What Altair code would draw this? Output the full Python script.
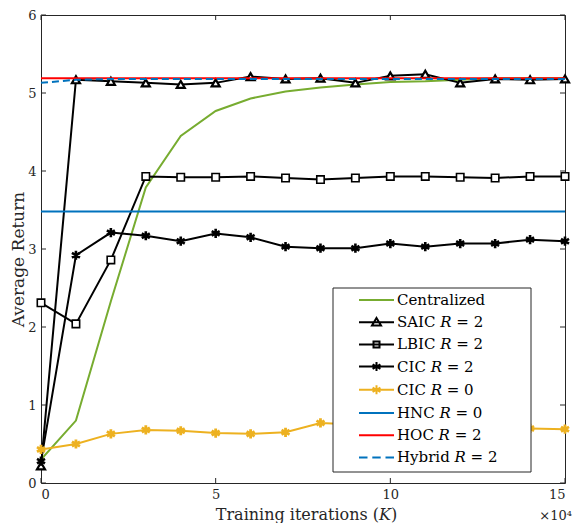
import altair as alt
import pandas as pd

# ---------------- data ----------------
iters = [0, 1, 2, 3, 4, 5, 6, 7, 8, 9, 10, 11, 12, 13, 14, 15]
centralized = [0.30, 0.80, 2.33, 3.79, 4.45, 4.77, 4.93, 5.02, 5.07, 5.11, 5.14, 5.15, 5.17, 5.19, 5.19, 5.19]
saic = [0.22, 5.17, 5.15, 5.13, 5.11, 5.13, 5.21, 5.18, 5.19, 5.13, 5.22, 5.24, 5.13, 5.18, 5.17, 5.18]
lbic = [2.31, 2.04, 2.86, 3.93, 3.92, 3.92, 3.93, 3.91, 3.89, 3.91, 3.93, 3.93, 3.92, 3.91, 3.93, 3.93]
cic2 = [0.28, 2.92, 3.21, 3.17, 3.10, 3.20, 3.15, 3.03, 3.01, 3.01, 3.07, 3.03, 3.07, 3.07, 3.12, 3.10]
cic0 = [0.43, 0.50, 0.63, 0.68, 0.67, 0.64, 0.63, 0.65, 0.77, 0.75, 0.74, 0.73, 0.72, 0.71, 0.70, 0.69]
hnc_x = [0, 15]
hnc = [3.48, 3.48]
hoc_x = [0, 15]
hoc = [5.19, 5.19]
hybrid = [5.13, 5.17, 5.18, 5.18, 5.18, 5.18, 5.18, 5.18, 5.18, 5.18, 5.18, 5.18, 5.18, 5.18, 5.18, 5.18]

series_names = ["Centralized", "SAIC 𝑅 = 2", "LBIC 𝑅 = 2", "CIC 𝑅 = 2",
                "CIC 𝑅 = 0", "HNC 𝑅 = 0", "HOC 𝑅 = 2", "Hybrid 𝑅 = 2"]
series_colors = ["#77AC30", "#000000", "#000000", "#000000",
                 "#EDB120", "#0072BD", "#FF0000", "#0072BD"]

x_ticks = [0, 5, 10, 15]
y_ticks = [0, 1, 2, 3, 4, 5, 6]
x_title = "Training iterations (𝐾)"
y_title = "Average Return"
x_multiplier = "×10⁴"

FONT = "'DejaVu Serif', 'Liberation Serif', serif"
W, H = 524, 468

ASTERISK = "M0,-1L0,1M-0.87,-0.5L0.87,0.5M-0.87,0.5L0.87,-0.5"

# legend symbols (line sample + marker)
LINE = "M-1.75,0L1.75,0"
STAR = "M0,-0.45L0,0.45M-0.39,-0.22L0.39,0.22M-0.39,0.22L0.39,-0.22"
leg_shapes = [
    LINE,
    LINE + "M0,-0.42L0.45,0.32L-0.45,0.32Z",
    LINE + "M-0.3,-0.3L0.3,-0.3L0.3,0.3L-0.3,0.3Z",
    LINE + STAR,
    LINE + STAR,
    LINE,
    LINE,
    "M-1.75,0L-0.9,0M-0.42,0L0.42,0M0.9,0L1.75,0",
]

xs = alt.Scale(domain=[0, 15], nice=False, zero=False)
ys = alt.Scale(domain=[0, 6], nice=False, zero=False)

x_enc = alt.X("x:Q", scale=xs, axis=alt.Axis(values=x_ticks, ticks=False, domain=False, grid=False, format="d",
                                            title=x_title, labelPadding=5,
                                            titleX=265, titleY=36, titleAlign="center",
                                            titleBaseline="alphabetic",
                                            labelFontSize=13, titleFontSize=16))
y_enc = alt.Y("y:Q", scale=ys, axis=alt.Axis(values=y_ticks, ticks=False, domain=False, grid=False, format="d",
                                            title=y_title, labelPadding=5, titleX=-18, titleY=244,
                                            titleAlign="center", titleBaseline="alphabetic",
                                            labelFontSize=13, titleFontSize=17))


def df(xv, yv):
    return pd.DataFrame({"x": xv, "y": yv})


def line(xv, yv, color, width=2.0, dash=None):
    kw = dict(color=color, strokeWidth=width, clip=True)
    if dash:
        kw["strokeDash"] = dash
    return alt.Chart(df(xv, yv)).mark_line(**kw).encode(x=x_enc, y=y_enc)


def pts(xv, yv, shape, color, size, sw, fill=None):
    kw = dict(shape=shape, size=size, strokeWidth=sw, opacity=1, color=color)
    if fill:
        kw.update(filled=True, fill=fill, stroke=color)
    else:
        kw.update(filled=False)
    return alt.Chart(df(xv, yv)).mark_point(**kw).encode(x=x_enc, y=y_enc)


layers = [
    line(iters, centralized, "#77AC30"),
    line(iters, saic, "#000000"),
    pts(iters, saic, "triangle-up", "#000000", 65, 2.2, fill="white"),
    line(iters, lbic, "#000000"),
    pts(iters, lbic, "square", "#000000", 55, 1.6, fill="white"),
    line(iters, cic2, "#000000"),
    pts(iters, cic2, ASTERISK, "#000000", 85, 2.6),
    line(iters, cic0, "#EDB120"),
    pts(iters, cic0, ASTERISK, "#EDB120", 85, 2.8),
    line(hnc_x, hnc, "#0072BD"),
    line(hoc_x, hoc, "#FF0000"),
    line(iters, hybrid, "#0072BD", dash=[7, 4]),
]

# legend frame
frame = alt.Chart(pd.DataFrame({"k": [0]})).mark_rect(
    fill="white", stroke="#262626", strokeWidth=1
).encode(x=alt.value(292), x2=alt.value(490), y=alt.value(273), y2=alt.value(457))

# legend-only layer (invisible marks, legend symbols drawn by Vega)
leg_df = pd.DataFrame({"series": series_names})
legend_layer = alt.Chart(leg_df).mark_point(opacity=0, filled=False, strokeWidth=2).encode(
    color=alt.Color("series:N", scale=alt.Scale(domain=series_names, range=series_colors),
                    legend=alt.Legend(title=None, orient="none", legendX=319.5, legendY=269,
                                      symbolSize=400, symbolStrokeWidth=2, symbolOpacity=1,
                                      labelFont=FONT, labelFontSize=15, labelColor="#000000",
                                      labelOffset=9.5, rowPadding=3.2, padding=5)),
    shape=alt.Shape("series:N", scale=alt.Scale(domain=series_names, range=leg_shapes)),
)

# inward ticks on all four sides
xt = pd.DataFrame({"t": x_ticks})
yt = pd.DataFrame({"t": y_ticks})
tick_color = "#262626"
tick_layers = [
    alt.Chart(xt).mark_rule(color=tick_color).encode(x=alt.X("t:Q", scale=xs), y=alt.value(H), y2=alt.value(H - 5)),
    alt.Chart(xt).mark_rule(color=tick_color).encode(x=alt.X("t:Q", scale=xs), y=alt.value(0), y2=alt.value(5)),
    alt.Chart(yt).mark_rule(color=tick_color).encode(y=alt.Y("t:Q", scale=ys), x=alt.value(0), x2=alt.value(5)),
    alt.Chart(yt).mark_rule(color=tick_color).encode(y=alt.Y("t:Q", scale=ys), x=alt.value(W), x2=alt.value(W - 5)),
]

mult = alt.Chart(pd.DataFrame({"t": [x_multiplier]})).mark_text(
    font=FONT, fontSize=13, align="right", baseline="alphabetic", color="#262626"
).encode(text="t:N", x=alt.value(W + 7), y=alt.value(H + 37))

chart = alt.layer(*layers, frame, legend_layer, *tick_layers, mult).properties(
    width=W, height=H,
    autosize=alt.AutoSizeParams(type="none"),
    padding={"left": 33, "top": 7, "right": 8, "bottom": 40},
).configure_view(stroke="#262626", strokeWidth=1).configure_axis(
    labelFont=FONT, titleFont=FONT, labelColor="#262626", titleColor="#262626", titleFontWeight="normal"
)

chart.save("out.html", embed_options={"renderer": "svg", "actions": False})
